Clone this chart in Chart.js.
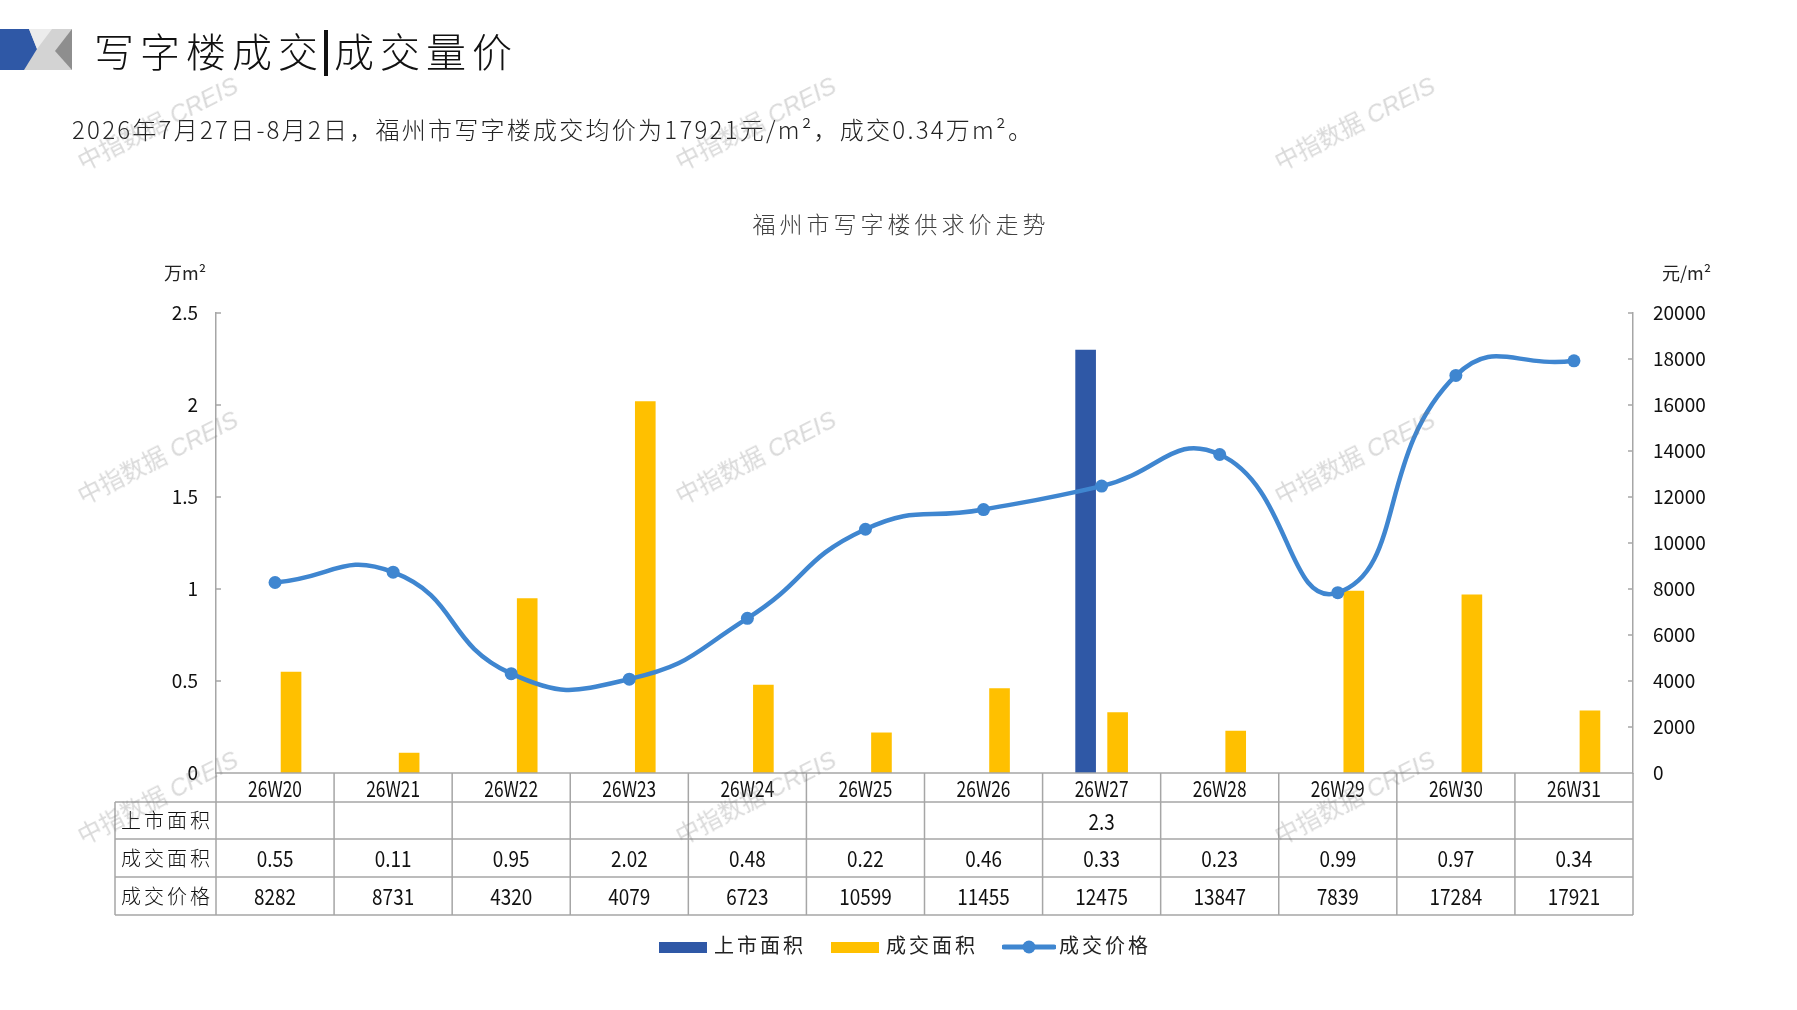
<!DOCTYPE html>
<html>
<head>
<meta charset="utf-8">
<script src="https://cdn.jsdelivr.net/npm/chart.js@4.4.1/dist/chart.umd.min.js"></script>
<style>
html,body{margin:0;padding:0;background:#fff;}
body{width:1797px;height:1010px;position:relative;overflow:hidden;font-family:'Noto Sans CJK SC',sans-serif;color:#000;}
#c{position:absolute;left:0;top:0;}
.abs{position:absolute;white-space:nowrap;line-height:1;}
#title{left:94px;top:30px;font-size:40px;font-weight:300;letter-spacing:6px;color:#111;}
#title .bar{display:inline-block;width:4px;height:46px;background:#111;vertical-align:-9px;margin:0 6px 0 0;}
#sub{left:72px;top:117px;font-size:24px;font-weight:300;letter-spacing:2.25px;color:#222;}
#ctitle{left:0;width:1802px;text-align:center;top:212px;font-size:23px;font-weight:300;letter-spacing:4px;color:#404040;}
.unit{top:263px;font-size:18px;color:#222;}
.legend{top:935px;font-size:20px;letter-spacing:3px;color:#222;}
.wm{font-family:'Liberation Sans','Noto Sans CJK SC',sans-serif;font-size:24px;color:rgba(120,120,120,0.28);transform:translate(-50%,-50%) rotate(-27deg);}
.wm i{font-style:italic;}
</style>
</head>
<body>
<canvas id="c" width="1797" height="1010"></canvas>

<svg class="abs" style="left:0;top:29px" width="72" height="41">
  <rect x="0" y="0" width="72" height="41" fill="#d3d3d3"/>
  <polygon points="0,0 29,0 37,20 24,41 0,41" fill="#2f58a6"/>
  <polygon points="29,0 52,0 37,20" fill="#ececec"/>
  <polygon points="72,0 72,41 55,22" fill="#8e8e8e"/>
</svg>
<div id="title" class="abs">写字楼成交<span class="bar"></span>成交量价</div>
<div id="sub" class="abs">2026年7月27日-8月2日，福州市写字楼成交均价为17921元/m²，成交0.34万m²。</div>
<div id="ctitle" class="abs">福州市写字楼供求价走势</div>
<div class="abs unit" style="left:164px">万m²</div>
<div class="abs unit" style="left:1662px">元/m²</div>

<div class="abs" style="left:659px;top:942px;width:48px;height:11px;background:#2f58a6"></div>
<div class="abs legend" style="left:714px">上市面积</div>
<div class="abs" style="left:831px;top:942px;width:48px;height:11px;background:#ffc000"></div>
<div class="abs legend" style="left:886px">成交面积</div>
<svg class="abs" style="left:1002px;top:937px" width="54" height="20">
  <line x1="2" y1="10" x2="52" y2="10" stroke="#3f86d0" stroke-width="5" stroke-linecap="round"/>
  <circle cx="27" cy="10" r="6.5" fill="#3f86d0"/>
</svg>
<div class="abs legend" style="left:1059px">成交价格</div>

<script>
const categories = ['26W20','26W21','26W22','26W23','26W24','26W25','26W26','26W27','26W28','26W29','26W30','26W31'];
const supplyArea = [null,null,null,null,null,null,null,2.3,null,null,null,null];
const dealArea = [0.55,0.11,0.95,2.02,0.48,0.22,0.46,0.33,0.23,0.99,0.97,0.34];
const dealPrice = [8282,8731,4320,4079,6723,10599,11455,12475,13847,7839,17284,17921];
const leftTickLabels = ['0','0.5','1','1.5','2','2.5'];
const rightTickLabels = ['0','2000','4000','6000','8000','10000','12000','14000','16000','18000','20000'];
const seriesNames = ['上市面积','成交面积','成交价格'];
const watermarkText = '中指数据';

[[158,124],[756,124],[1355,124],[158,458],[756,458],[1355,458],[158,798],[756,798],[1355,798]].forEach(([x,y])=>{
  const d=document.createElement('div');
  d.className='abs wm';
  d.style.left=x+'px';d.style.top=y+'px';
  d.innerHTML=watermarkText+' <i>CREIS</i>';
  document.body.appendChild(d);
});

const numFont = "'Noto Sans CJK SC',sans-serif";
const cjkFont = "'Noto Sans CJK SC',sans-serif";
const gridColor = '#a6a6a6';

function narrowText(ctx, txt, x, y, sx){
  ctx.save(); ctx.translate(x,y); ctx.scale(sx,1); ctx.fillText(txt,0,0); ctx.restore();
}

const tablePlugin = {
  id:'tableAndTicks',
  afterDraw(chart){
    const ctx=chart.ctx, xs=chart.scales.x, a=chart.chartArea;
    const n=categories.length;
    const colW=(a.right-a.left)/n;
    const rows=[a.bottom, a.bottom+29, a.bottom+66, a.bottom+104, a.bottom+142];
    const headerLeft=115;
    ctx.save();
    ctx.strokeStyle=gridColor; ctx.lineWidth=1.5;
    ctx.beginPath();
    ctx.moveTo(a.left,rows[0]); ctx.lineTo(a.right,rows[0]);
    for(let r=1;r<rows.length;r++){ctx.moveTo(headerLeft,rows[r]);ctx.lineTo(a.right,rows[r]);}
    for(let i=0;i<=n;i++){
      const px = i<n ? xs.getPixelForValue(i)-colW/2 : xs.getPixelForValue(n-1)+colW/2;
      ctx.moveTo(px,rows[0]); ctx.lineTo(px,rows[4]);
    }
    ctx.moveTo(headerLeft,rows[1]); ctx.lineTo(headerLeft,rows[4]);
    const yl=chart.scales.y, yr=chart.scales.y1;
    yl.ticks.forEach((t,i)=>{const py=yl.getPixelForTick(i);ctx.moveTo(a.left,py);ctx.lineTo(a.left+5,py);});
    yr.ticks.forEach((t,i)=>{const py=yr.getPixelForTick(i);ctx.moveTo(a.right,py);ctx.lineTo(a.right-5,py);});
    ctx.stroke();

    ctx.fillStyle='#111';
    ctx.textAlign='center'; ctx.textBaseline='middle';
    ctx.font='22px '+numFont;
    const values=[supplyArea.map(v=>v==null?'':String(v)), dealArea.map(v=>v.toFixed(2)), dealPrice.map(v=>String(v))];
    for(let i=0;i<n;i++){
      const cx=xs.getPixelForValue(i);
      narrowText(ctx, categories[i], cx, (rows[0]+rows[1])/2+1, 0.79);
      for(let r=0;r<3;r++){
        narrowText(ctx, values[r][i], cx, (rows[r+1]+rows[r+2])/2+1, 0.86);
      }
    }
    ctx.textAlign='left';
    ctx.font='300 20px '+cjkFont;
    for(let r=0;r<3;r++){
      const txt=seriesNames[r]; let x=121;
      for(const ch of txt){ctx.fillText(ch,x,(rows[r+1]+rows[r+2])/2); x+=23;}
    }
    ctx.restore();
  }
};

new Chart(document.getElementById('c'),{
  data:{
    labels:categories,
    datasets:[
      {type:'line',label:seriesNames[2],data:dealPrice,yAxisID:'y1',order:0,
       borderColor:'#3f86d0',backgroundColor:'#3f86d0',borderWidth:4.5,tension:0.5,
       pointRadius:6.5,pointBackgroundColor:'#3f86d0',pointBorderWidth:0},
      {type:'bar',label:seriesNames[0],data:supplyArea,yAxisID:'y',order:1,
       backgroundColor:'#2f58a6',barPercentage:0.645,categoryPercentage:0.542},
      {type:'bar',label:seriesNames[1],data:dealArea,yAxisID:'y',order:1,
       backgroundColor:'#ffc000',barPercentage:0.645,categoryPercentage:0.542}
    ]
  },
  options:{
    responsive:false,animation:false,devicePixelRatio:1,
    layout:{padding:{left:0,right:0,top:313,bottom:237}},
    plugins:{legend:{display:false},title:{display:false},tooltip:{enabled:false}},
    scales:{
      x:{type:'category',display:false,offset:true,grid:{display:false}},
      y:{type:'linear',position:'left',min:0,max:2.5,
         afterFit(s){s.width=216;},
         grid:{display:false,drawTicks:false},
         border:{display:true,color:gridColor,width:1.5},
         ticks:{stepSize:0.5,padding:18,color:'#111',font:{family:numFont,size:19},
                callback:(v,i)=>leftTickLabels[i]}},
      y1:{type:'linear',position:'right',min:0,max:20000,
         afterFit(s){s.width=164;},
         grid:{display:false,drawTicks:false},
         border:{display:true,color:gridColor,width:1.5},
         ticks:{stepSize:2000,padding:20,color:'#111',font:{family:numFont,size:19},
                callback:(v,i)=>rightTickLabels[i]}}
    }
  },
  plugins:[tablePlugin]
});
</script>
</body>
</html>
